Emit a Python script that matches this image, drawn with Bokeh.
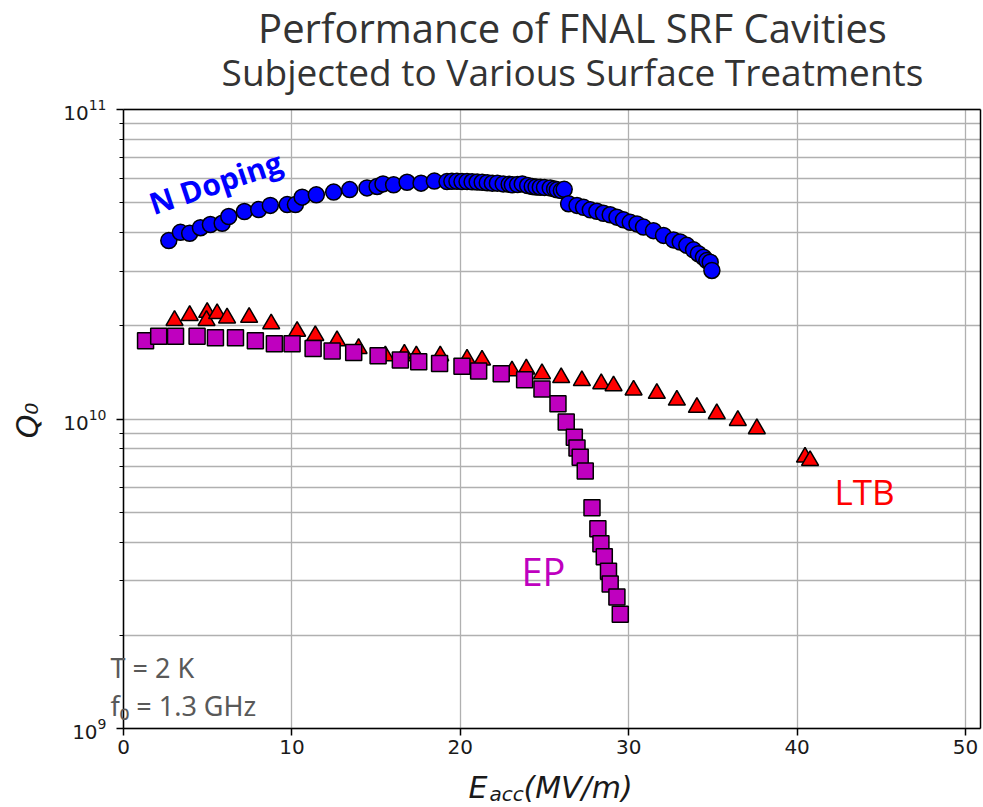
from math import pi, radians
from bokeh.plotting import figure
from bokeh.models import (ColumnDataSource, FixedTicker, Label, LinearAxis,
                          LogAxis, Grid)
from bokeh.embed import file_html
from bokeh.resources import INLINE

# ---------------- data ----------------
title_lines = ["Performance of FNAL SRF Cavities",
               "Subjected to Various Surface Treatments"]

x_ticks = [0, 10, 20, 30, 40, 50]
y_major_ticks = [1e9, 1e10, 1e11]
y_minor_ticks = [2e9, 3e9, 4e9, 5e9, 6e9, 7e9, 8e9, 9e9,
                 2e10, 3e10, 4e10, 5e10, 6e10, 7e10, 8e10, 9e10]

# N Doping  (E_acc in MV/m, Q0 in units of 1e10)
ndop_E = [2.69, 3.38, 3.93, 4.57, 5.16, 5.86, 6.25, 7.18, 8.03, 8.72, 9.72, 10.21,
          10.61, 11.45, 12.48, 13.43, 14.46, 15.06, 15.41, 16.04, 16.84, 17.67, 18.46,
          19.21, 19.5, 19.8, 20.1, 20.4, 20.7, 21.0, 21.3, 21.6, 21.9, 22.2, 22.55,
          22.9, 23.09, 23.4, 23.68, 24.0, 24.27, 24.5, 24.75, 25.0, 25.34, 25.6, 25.76,
          26.0, 26.17,
          26.43, 26.93, 27.32, 27.72, 28.11, 28.50, 28.90, 29.30, 29.69, 30.09, 30.49,
          30.88, 31.47, 32.07, 32.66, 33.06, 33.45, 33.85, 34.14, 34.44, 34.64, 34.84,
          34.94]
ndop_Q = [3.77, 4.01, 3.98, 4.15, 4.25, 4.29, 4.51, 4.68, 4.75, 4.90, 4.93, 4.93,
          5.21, 5.30, 5.41, 5.51, 5.58, 5.64, 5.75, 5.71, 5.82, 5.78, 5.87,
          5.85, 5.86, 5.86, 5.85, 5.85, 5.84, 5.83, 5.82, 5.80, 5.78, 5.78, 5.75,
          5.73, 5.71, 5.72, 5.75, 5.68, 5.64, 5.62, 5.61, 5.60, 5.58, 5.54, 5.50,
          5.47, 5.52,
          4.96, 4.90, 4.83, 4.74, 4.69, 4.62, 4.57, 4.49, 4.40, 4.32, 4.27,
          4.17, 4.06, 3.92, 3.79, 3.73, 3.64, 3.52, 3.42, 3.33, 3.25, 3.21,
          3.02]

# LTB
ltb_E = [3.03, 3.93, 4.97, 4.93, 5.56, 6.15, 7.46, 8.77, 10.31, 11.39, 12.68, 13.96,
         15.55, 16.68, 17.39, 18.81, 20.40, 21.29, 23.07, 23.92, 24.85, 25.99, 27.22,
         28.37, 29.10, 30.29, 31.67, 32.86, 34.05, 35.23, 36.48, 37.61, 40.47, 40.77]
ltb_Q = [2.08, 2.16, 2.21, 2.08, 2.19, 2.12, 2.13, 2.03, 1.92, 1.86, 1.79, 1.69,
         1.60, 1.62, 1.60, 1.60, 1.56, 1.55, 1.43, 1.45, 1.40, 1.36, 1.33,
         1.30, 1.28, 1.24, 1.21, 1.15, 1.09, 1.04, 0.989, 0.930, 0.753, 0.734]

# EP
ep_E = [1.31, 2.09, 3.09, 4.37, 5.46, 6.65, 7.83, 8.96, 10.01, 11.26, 12.39, 13.67,
        15.12, 16.44, 17.53, 18.77, 20.10, 21.09, 22.43, 23.82, 24.85, 25.80, 26.29,
        26.77, 26.93, 27.12, 27.42, 27.82, 28.17, 28.35, 28.55, 28.80, 28.90, 29.30,
        29.50]
ep_Q = [1.79, 1.85, 1.85, 1.85, 1.83, 1.83, 1.79, 1.75, 1.75, 1.69, 1.66, 1.64,
        1.60, 1.55, 1.53, 1.51, 1.48, 1.43, 1.40, 1.34, 1.25, 1.12, 0.978,
        0.873, 0.806, 0.753, 0.679, 0.517, 0.442, 0.395, 0.359, 0.322, 0.293, 0.266,
        0.234]

SCALE = 1e10
src_nd = ColumnDataSource(dict(x=ndop_E, y=[v * SCALE for v in ndop_Q]))
src_ltb = ColumnDataSource(dict(x=ltb_E, y=[v * SCALE for v in ltb_Q]))
src_ep = ColumnDataSource(dict(x=ep_E, y=[v * SCALE for v in ep_Q]))

# ---------------- geometry ----------------
W, H = 983, 807
X_MIN, X_MAX = 0.0, 50.89
Y_MIN, Y_MAX = 1e9, 1e11
PX_PER_X = 16.84          # pixels per MV/m
PX_PER_DEC = 309.5        # pixels per decade
BOX_LEFT, BOX_TOP, BOX_BOTTOM = 123, 109, 728

x_start = X_MIN - BOX_LEFT / PX_PER_X
x_end = X_MIN + (W - BOX_LEFT) / PX_PER_X
y_start = 10 ** (9 - (H - BOX_BOTTOM) / PX_PER_DEC)
y_end = 10 ** (11 + BOX_TOP / PX_PER_DEC)

# the frame fills the whole canvas; the visible box is drawn with fixed-location axes
p = figure(width=W, height=H, x_range=(x_start, x_end), y_range=(y_start, y_end),
           y_axis_type="log", output_backend="svg", toolbar_location=None,
           min_border=0)
p.background_fill_color = "white"
p.border_fill_color = "white"
p.outline_line_color = None

xt = FixedTicker(ticks=x_ticks)
yt = FixedTicker(ticks=y_major_ticks, minor_ticks=y_minor_ticks)

xa = p.xaxis[0]
xa.ticker = xt
xa.fixed_location = Y_MIN
xa.bounds = (X_MIN, X_MAX)
ya = p.yaxis[0]
ya.ticker = yt
ya.fixed_location = X_MIN
ya.bounds = (Y_MIN, Y_MAX)
for ax in (xa, ya):
    ax.axis_line_color = "black"
    ax.axis_line_width = 1.5
    ax.major_tick_line_color = "black"
    ax.major_tick_line_width = 1.5
    ax.major_tick_out = 7
    ax.major_tick_in = 0
    ax.major_label_text_font = "DejaVu Sans"
    ax.major_label_text_font_size = "20px"
    ax.major_label_text_color = "#1a1a1a"
xa.minor_tick_line_color = None
xa.major_label_standoff = 4
ya.minor_tick_line_color = "black"
ya.minor_tick_line_width = 1.2
ya.minor_tick_out = 4
ya.minor_tick_in = 0
ya.major_label_standoff = 10

# top and right edges of the box
top_ax = LinearAxis(fixed_location=Y_MAX, bounds=(X_MIN, X_MAX),
                    ticker=FixedTicker(ticks=[]), axis_line_width=1.5,
                    major_tick_line_color=None, minor_tick_line_color=None)
right_ax = LogAxis(fixed_location=X_MAX, bounds=(Y_MIN, Y_MAX),
                   ticker=FixedTicker(ticks=[]), axis_line_width=1.5,
                   major_tick_line_color=None, minor_tick_line_color=None)
p.add_layout(top_ax, "above")
p.add_layout(right_ax, "right")

# grid limited to the box
GRID_COLOR = "#b0b0b0"
GRID_W = 1.3
if "cross_bounds" in Grid.properties():
    p.xgrid.ticker = xt
    p.ygrid.ticker = yt
    p.xgrid.cross_bounds = (Y_MIN, Y_MAX)
    p.ygrid.cross_bounds = (X_MIN, X_MAX)
    for g in (p.xgrid, p.ygrid):
        g.grid_line_color = GRID_COLOR
        g.grid_line_width = GRID_W
    p.ygrid.minor_grid_line_color = GRID_COLOR
    p.ygrid.minor_grid_line_width = GRID_W
else:
    p.xgrid.grid_line_color = None
    p.ygrid.grid_line_color = None
    n = len(x_ticks)
    p.segment(x0=x_ticks, y0=[Y_MIN] * n, x1=x_ticks, y1=[Y_MAX] * n,
              line_color=GRID_COLOR, line_width=GRID_W, level="underlay")
    yall = y_major_ticks + y_minor_ticks
    m = len(yall)
    p.segment(x0=[X_MIN] * m, y0=yall, x1=[X_MAX] * m, y1=yall,
              line_color=GRID_COLOR, line_width=GRID_W, level="underlay")

# ---------------- series ----------------
p.scatter("x", "y", source=src_nd, marker="circle", size=16,
          fill_color="#0000ff", line_color="black", line_width=1.5)
p.scatter("x", "y", source=src_ltb, marker="triangle", size=17,
          fill_color="#ff0000", line_color="black", line_width=1.5)
p.scatter("x", "y", source=src_ep, marker="square", size=16,
          fill_color="#bf00bf", line_color="black", line_width=1.5)


def lab(px, py, text, **kw):
    """place a label centred vertically at canvas pixel (px, py)"""
    p.add_layout(Label(x=px, y=H - py, x_units="screen", y_units="screen",
                       text=text, text_baseline="middle", **kw))


# title
lab(572, 27, title_lines[0], text_align="center",
    text_font="Open Sans", text_font_size="40px", text_color="#333333")
lab(572, 71, title_lines[1], text_align="center",
    text_font="Open Sans", text_font_size="37px", text_color="#333333")

# series annotations
lab(215, 182, "N Doping", angle=radians(18.5), text_align="center",
    text_font="Open Sans", text_font_style="bold",
    text_font_size="30px", text_color="#0000ff")
lab(834, 491, "LTB", text_align="left",
    text_font="Open Sans", text_font_size="35px", text_color="#ff0000")
lab(521, 570, "EP", text_align="left",
    text_font="Open Sans", text_font_size="38px", text_color="#bf00bf")
lab(110, 667, "T = 2 K", text_align="left",
    text_font="Noto Sans", text_font_size="27px", text_color="#595959")
lab(110, 705, "f\u2080 = 1.3 GHz", text_align="left",
    text_font="Noto Sans", text_font_size="27px", text_color="#595959")

# axis titles
lab(27, 420, "Q\u2080", angle=pi / 2, text_align="center",
    text_font="DejaVu Sans", text_font_style="italic", text_font_size="30px",
    text_color="#1a1a1a")
lab(468, 787, "E", text_align="left",
    text_font="DejaVu Sans", text_font_style="italic", text_font_size="30px",
    text_color="#1a1a1a")
lab(489, 793, "acc", text_align="left",
    text_font="DejaVu Sans", text_font_style="italic", text_font_size="20px",
    text_color="#1a1a1a")
lab(523, 787, "(MV/m)", text_align="left",
    text_font="DejaVu Sans", text_font_style="italic", text_font_size="30px",
    text_color="#1a1a1a")

open("out.html", "w").write(file_html(p, INLINE))
